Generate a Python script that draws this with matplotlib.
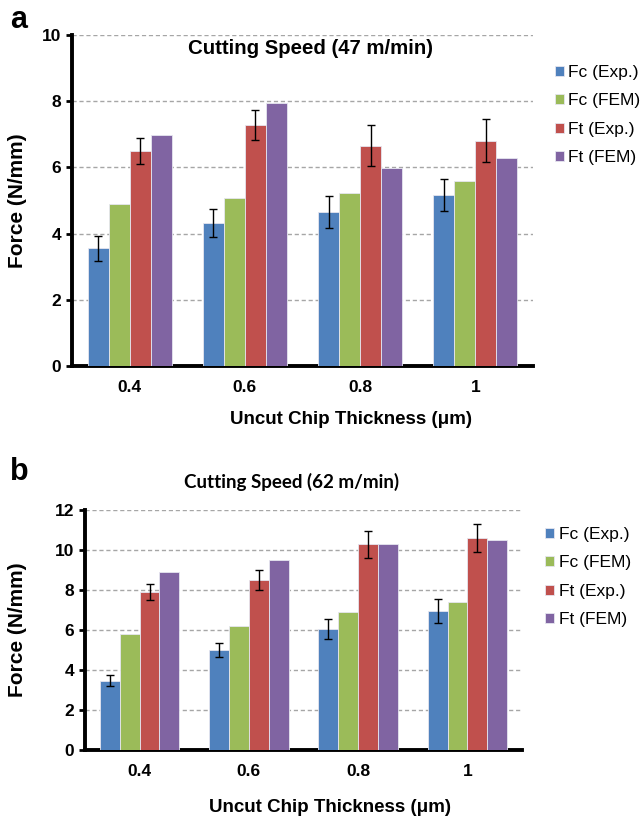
import numpy as np
import matplotlib.pyplot as plt

# uncut chip thickness categories
thickness = ["0.4", "0.6", "0.8", "1"]
series = ["Fc (Exp.)", "Fc (FEM)", "Ft (Exp.)", "Ft (FEM)"]
colors = ["#4F81BD", "#9BBB59", "#C0504D", "#8064A2"]

# panel a: 47 m/min
fc_exp_47 = [3.55, 4.32, 4.66, 5.16]
fc_exp_47_err = [0.38, 0.42, 0.48, 0.49]
fc_fem_47 = [4.89, 5.09, 5.22, 5.58]
ft_exp_47 = [6.49, 7.29, 6.66, 6.81]
ft_exp_47_err = [0.40, 0.45, 0.63, 0.65]
ft_fem_47 = [6.99, 7.94, 5.99, 6.29]

# panel b: 62 m/min
fc_exp_62 = [3.47, 5.00, 6.05, 6.95]
fc_exp_62_err = [0.26, 0.37, 0.52, 0.58]
fc_fem_62 = [5.80, 6.20, 6.90, 7.40]
ft_exp_62 = [7.88, 8.48, 10.29, 10.59]
ft_exp_62_err = [0.40, 0.50, 0.67, 0.71]
ft_fem_62 = [8.89, 9.49, 10.29, 10.49]

plt.rcParams["font.family"] = ["Liberation Sans", "DejaVu Sans"]

W, H = 640, 819


def bar_panel(ax, values, errors, ymax, leg_xy):
    x = np.arange(len(thickness))
    w = 1 / 5.5
    for i, (vals, col, name) in enumerate(zip(values, colors, series)):
        pos = x + (i - 1.5) * w
        err = errors[i]
        ax.bar(pos, vals, w, color=col, edgecolor="#E6E6F0", linewidth=0.6,
               label=name, zorder=3)
        if err is not None:
            ax.errorbar(pos, vals, yerr=err, fmt="none", ecolor="black",
                        elinewidth=1, capsize=3, capthick=1, zorder=4)
    ax.set_xlim(-0.5, len(thickness) - 0.5)
    ax.set_ylim(0, ymax)
    ax.set_yticks(np.arange(0, ymax + 1, 2))
    ax.set_xticks(x)
    ax.set_xticklabels(thickness)
    ax.yaxis.grid(True, color="#A6A6A6", linestyle=(0, (3, 2)), linewidth=1)
    ax.set_axisbelow(True)
    for s in ["top", "right"]:
        ax.spines[s].set_visible(False)
    for s in ["left", "bottom"]:
        ax.spines[s].set_linewidth(2.8)
    ax.tick_params(axis="y", direction="out", length=4, width=2, labelsize=12.5, pad=4)
    ax.tick_params(axis="x", length=0, labelsize=12.5, pad=10)
    for lab in ax.get_xticklabels() + ax.get_yticklabels():
        lab.set_fontweight("bold")
    ax.legend(loc="upper left", bbox_to_anchor=leg_xy, frameon=False,
              fontsize=12.5, handlelength=0.52, handleheight=0.52,
              handletextpad=0.25, labelspacing=0.78, borderpad=0,
              borderaxespad=0)
    pos = ax.get_position()
    fig.text(18 / W, (pos.y0 + pos.y1) / 2, "Force (N/mm)", rotation=90,
             ha="center", va="center", fontsize=15, fontweight="bold")


fig = plt.figure(figsize=(6.4, 8.19), dpi=100)

ax1 = fig.add_axes([72 / W, 1 - 366 / H, 461 / W, 331 / H])
bar_panel(ax1, [fc_exp_47, fc_fem_47, ft_exp_47, ft_fem_47],
          [fc_exp_47_err, None, ft_exp_47_err, None], 10, (1.048, 0.91))
fig.text(310 / W, 1 - 48 / H, "Cutting Speed (47 m/min)", ha="center",
         va="center", fontsize=14.7, fontweight="bold")
fig.text(351 / W, 1 - 420 / H, "Uncut Chip Thickness (\u03bcm)", ha="center",
         va="center", fontsize=13.5, fontweight="bold")

ax2 = fig.add_axes([85 / W, 1 - 750 / H, 437 / W, 240 / H])
bar_panel(ax2, [fc_exp_62, fc_fem_62, ft_exp_62, ft_fem_62],
          [fc_exp_62_err, None, ft_exp_62_err, None], 12, (1.053, 0.93))
fig.text(292 / W, 1 - 482 / H, "Cutting Speed (62 m/min)", ha="center",
         va="center", fontsize=13.5, fontweight="bold", family=["Lato", "DejaVu Sans"])
fig.text(330 / W, 1 - 808 / H, "Uncut Chip Thickness (\u03bcm)", ha="center",
         va="center", fontsize=13.5, fontweight="bold")

fig.text(10 / W, 1 - 20 / H, "a", fontsize=22, fontweight="bold",
         ha="left", va="center")
fig.text(10 / W, 1 - 472 / H, "b", fontsize=22, fontweight="bold",
         ha="left", va="center")

fig.savefig("out.png", dpi=100)
